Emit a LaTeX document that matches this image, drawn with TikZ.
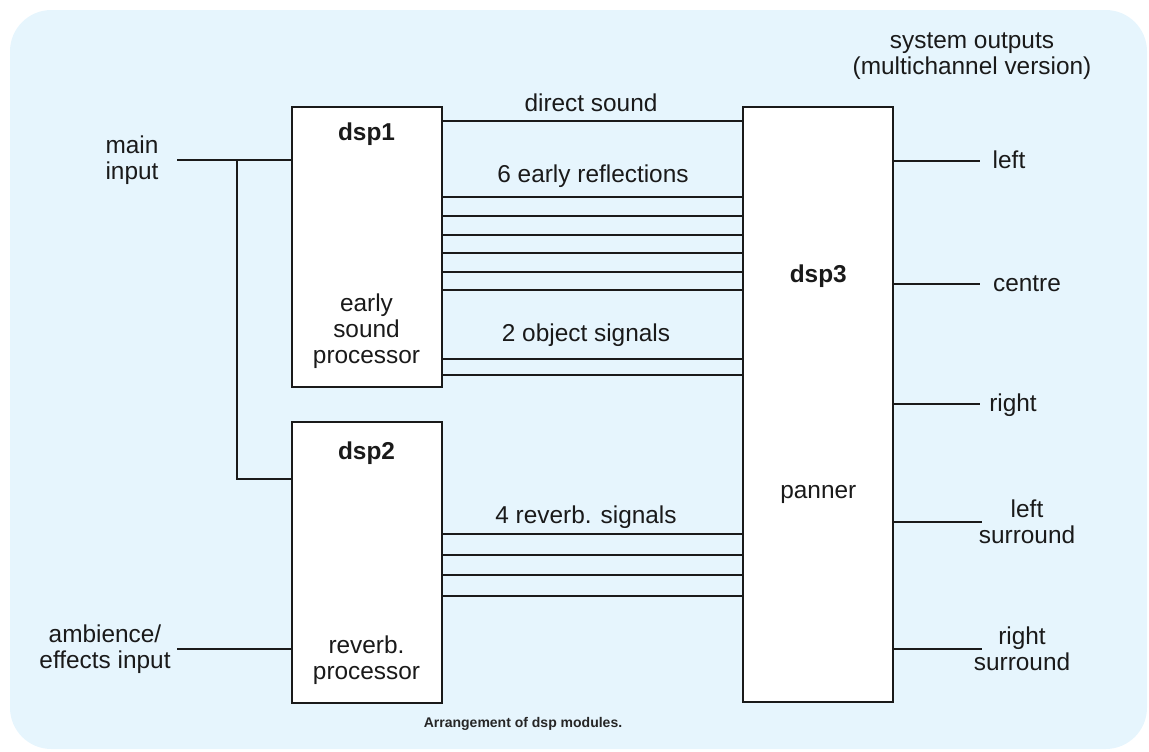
\documentclass[tikz,border=0pt]{standalone}
\usepackage{fontspec}
\setmainfont{Liberation Sans}
\definecolor{bgblue}{HTML}{E6F5FD}
\definecolor{ink}{HTML}{1A1A1A}
\definecolor{capgray}{HTML}{262626}
\begin{document}
\begin{tikzpicture}[x=0.75pt,y=-0.75pt,
  box/.style={draw=ink, line width=1.5pt, fill=white, inner sep=0pt, minimum width=112.5pt},
  lbl/.style={font=\fontsize{18.3}{19.5}\selectfont, align=center, inner sep=0pt, text=ink},
  ttl/.style={font=\fontsize{18.3}{19.5}\selectfont\bfseries, inner sep=0pt, text=ink},
  captext/.style={font=\fontsize{10.5}{12}\selectfont\bfseries, inner sep=0pt, text=capgray},
  wire/.style={draw=ink, line width=1.5pt}]
\useasboundingbox (0,0) rectangle (1149,751);
\fill[bgblue, rounded corners=31pt] (10,10) rectangle (1147,749);

% boxes
\node[box, minimum height=210pt] (dsp1) at (366.5,247) {};
\node[box, minimum height=210.75pt] (dsp2) at (366.5,562) {};
\node[box, minimum height=446.25pt] (dsp3) at (818.3,404.5) {};

% box texts (base = baseline of last line)
\node[ttl, anchor=base] (t1) at (366.5,140) {dsp1};
\node[lbl, anchor=base] (e1) at (366.5,363) {early\\sound\\processor};
\node[ttl, anchor=base] (t2) at (366.5,459) {dsp2};
\node[lbl, anchor=base] (e2) at (366.5,679) {reverb.\\processor};
\node[ttl, anchor=base] (t3) at (818.3,282.5) {dsp3};
\node[lbl, anchor=base] (e3) at (818.3,498) {panner};

% inputs
\node[lbl, anchor=base] (min) at (132,179) {main\\input};
\node[lbl, anchor=base] (amb) at (105,668) {ambience/\\effects input};
\coordinate (mi) at (177,160);
\coordinate (ai) at (177,649);
\coordinate (j) at (237,160);
\draw[wire] (mi) -- (dsp1.west |- mi);
\draw[wire] (j) |- (dsp2.west |- 0,479);
\draw[wire] (ai) -- (dsp2.west |- ai);

% dsp1 -> dsp3
\node[lbl, anchor=base] (ds) at (591,111) {direct sound};
\node[lbl, anchor=base] (er) at (593,182) {6 early reflections};
\node[lbl, anchor=base] (os) at (586,341.5) {2 object signals};
\node[lbl, anchor=base] (rs) at (586,523) {4 reverb. signals};
\foreach \yy in {121,197,215.5,234.5,253,271.5,289.5,358.5,375}
  \draw[wire] (dsp1.east |- 0,\yy) -- (dsp3.west |- 0,\yy);
\foreach \yy in {534,554.5,575,595.5}
  \draw[wire] (dsp2.east |- 0,\yy) -- (dsp3.west |- 0,\yy);

% outputs
\node[lbl, anchor=base] (so) at (972,74) {system outputs\\(multichannel version)};
\coordinate (o1) at (980,161);
\coordinate (o2) at (980,283.5);
\coordinate (o3) at (980,404);
\coordinate (o4) at (982,522);
\coordinate (o5) at (982,649);
\foreach \o in {o1,o2,o3,o4,o5}
  \draw[wire] (dsp3.east |- \o) -- (\o);
\node[lbl, anchor=base] (l1) at (1009,168) {left};
\node[lbl, anchor=base] (l2) at (1027,291) {centre};
\node[lbl, anchor=base] (l3) at (1013,411) {right};
\node[lbl, anchor=base] (l4) at (1027,543) {left\\surround};
\node[lbl, anchor=base] (l5) at (1022,670) {right\\surround};

% caption
\node[captext, anchor=base] (capn) at (523,727) {Arrangement of dsp modules.};
\end{tikzpicture}
\end{document}
